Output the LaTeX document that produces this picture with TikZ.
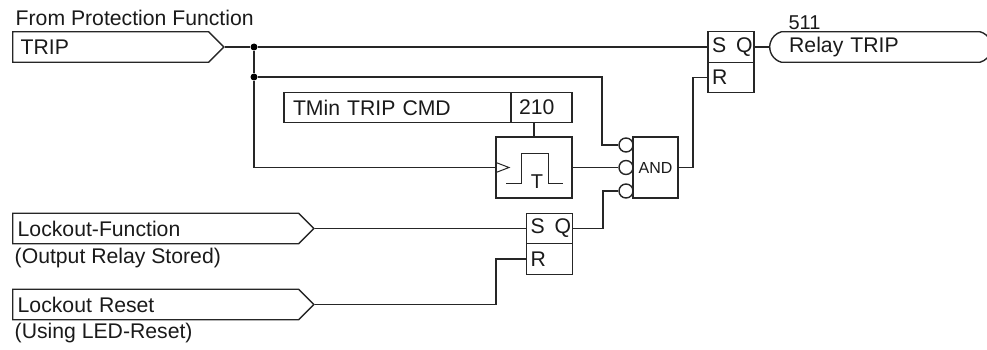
\documentclass[tikz,border=0pt]{standalone}
\usepackage{fontspec}
\setsansfont{Liberation Sans}
\usetikzlibrary{positioning, shapes.symbols, shapes.misc}
\definecolor{cline}{HTML}{262626}
\definecolor{ctext}{HTML}{1A1A1A}
\newcommand{\fs}[1]{\fontsize{#1}{#1}\selectfont}
\newcommand{\sq}{\raisebox{-2pt}{S\hspace{10pt}Q}}
\tikzset{
  every picture/.style={font=\sffamily, line width=1.4pt},
  wire/.style={draw=cline, line width=1.4pt},
  label/.style={font=\sffamily\fs{21.2}, text=ctext, anchor=west, inner sep=0pt},
  source/.style={signal, signal to=east, signal pointer angle=90, draw=cline, line width=1.4pt, anchor=west,
    font=\sffamily\fs{21.2}, text=ctext, inner xsep=5pt, inner ysep=0pt, minimum height=30.5pt, align=left},
  cell/.style={draw=cline, line width=1.4pt, inner xsep=5pt, inner ysep=0pt, outer sep=0pt, align=left,
    font=\sffamily\fs{21.2}, text=ctext, minimum height=30.5pt},
}
\begin{document}
\begin{tikzpicture}[
    x=1pt, y=-1pt,
    latch/.style={cell, inner xsep=4pt, text width=38pt},
    gate/.style={cell, align=center, inner xsep=0pt, minimum width=45pt, minimum height=61pt},
    neg/.style={circle, draw=cline, line width=1.4pt, fill=white, inner sep=0pt, minimum size=14pt},
    tap/.style={circle, fill=black, inner sep=0pt, minimum size=7pt},
  ]
  \useasboundingbox (0,0) rectangle (987,350);

  % inputs
  \node[label] (fromlbl) at (15,18) {From Protection Function};
  \node[source, text width=186pt] (trip) at (12,47) {\hspace{3pt}TRIP};
  \node[source, text width=276pt] (lockfn) at (12,228.5) {Lockout-Function};
  \node[label] (storedlbl) at (14,258) {(Output Relay Stored)};
  \node[source, text width=276pt] (lockrst) at (12,304.5) {Lockout Reset};
  \node[label] (usinglbl) at (14,333) {(Using LED-Reset)};

  % timer with its setting
  \node[cell, text width=213pt, inner xsep=7pt] (tmin) at (397.5,107.5) {\hspace{2pt}TMin TRIP CMD};
  \node[cell, text width=51pt, right=0pt of tmin] (tval) {\hspace{3pt}210};
  \node[cell, minimum width=76pt, minimum height=61pt] (timer) at (534,167.5) {};
  \node[label, font=\sffamily\fs{20}, anchor=center] (tlbl) at (537,182) {T};
  \draw[wire, line width=1pt] (timer.west) ++(0,-5) -- ++(13,5) -- ++(-13,5);
  \draw[wire, line width=1pt] (506,183) -- (521,183) -- (521,153) -- (548,153) -- (548,183) -- (563,183);

  % gate
  \node[gate, font=\sffamily\fs{16}] (andgate) at (655.5,167.5) {AND};
  \node[neg] (negA) at (626,145) {};
  \node[neg] (negB) at (626,167.5) {};
  \node[neg] (negC) at (626,191) {};

  % latches
  \node[latch] (setlow) at (549.5,228.5) {\sq};
  \node[latch, below=0pt of setlow] (rstlow) {R};
  \node[latch] (settop) at (731,47) {\sq};
  \node[latch, below=0pt of settop] (rsttop) {R};

  % output
  \node[rounded rectangle, rounded rectangle arc length=150, draw=cline, line width=1.4pt, anchor=west, align=left,
    font=\sffamily\fs{21.2}, text=ctext, inner xsep=0pt, inner ysep=0pt, minimum height=30.5pt, text width=215pt] (relay) at (769,47) {\hspace{16pt}Relay TRIP};
  \node[label, font=\sffamily\fs{20}, anchor=center] (numlbl) at (804.5,23) {511};

  % wires
  \node[tap] (tapA) at (254,47) {};
  \node[tap] (tapB) at (254,77) {};
  \coordinate (bendA) at (602,77);
  \coordinate (bendB) at (693,77);
  \coordinate (bendC) at (603,191);
  \coordinate (bendD) at (496,304.5);
  \draw[wire] (trip.east) -- (tapA) -- (settop.west);
  \draw[wire] (tapA) -- (tapB) |- (timer.west);
  \draw[wire] (tapB) -- (bendA) |- (negA.west);
  \draw[wire] (timer.east) -- (negB.west);
  \draw[wire] (tval.south -| timer.north) -- (timer.north);
  \draw[wire] (andgate.east) -- (bendB |- andgate.east) |- (rsttop.west);
  \draw[wire] (settop.east) -- (relay.west);
  \draw[wire] (lockfn.east) -- (setlow.west);
  \draw[wire] (setlow.east) -- (bendC |- setlow.east) |- (negC.west);
  \draw[wire] (lockrst.east) -- (bendD |- lockrst.east) |- (rstlow.west);
\end{tikzpicture}
\end{document}
